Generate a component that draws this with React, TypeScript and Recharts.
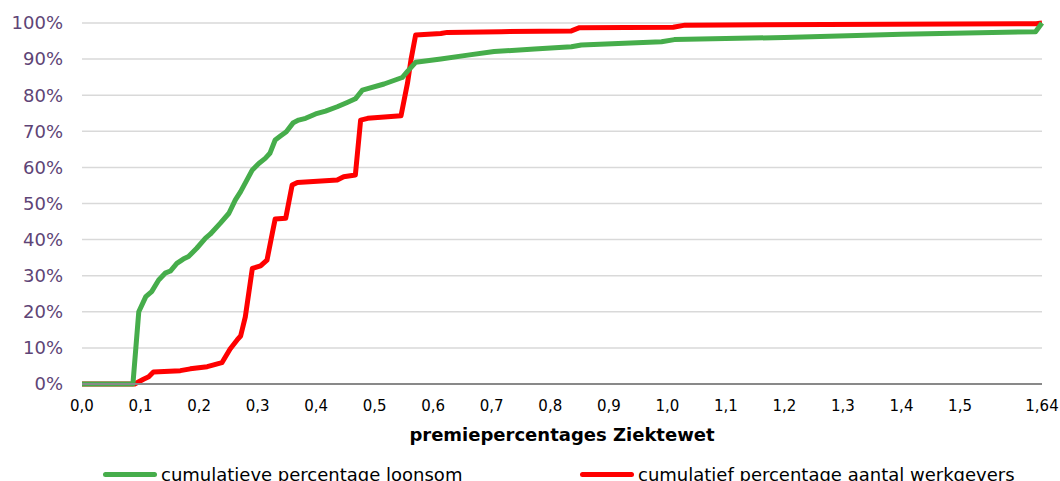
import React from "react";
import { LineChart, Line, XAxis, YAxis, CartesianGrid, Legend } from "recharts";

// premiepercentage (x) en cumulatieve percentages (y)
const loonsomX = [0, 0.087, 0.097, 0.109, 0.119, 0.131, 0.142, 0.151, 0.162, 0.173, 0.182, 0.196, 0.211, 0.219, 0.236, 0.251, 0.262, 0.271, 0.291, 0.302, 0.313, 0.321, 0.33, 0.339, 0.349, 0.361, 0.37, 0.382, 0.399, 0.416, 0.436, 0.453, 0.467, 0.479, 0.516, 0.547, 0.556, 0.57, 0.613, 0.659, 0.704, 0.773, 0.836, 0.853, 0.99, 1.012, 1.2, 1.4, 1.629, 1.64];
const loonsomY = [0, 0, 20, 24.2, 25.6, 28.8, 30.7, 31.3, 33.4, 34.6, 35.3, 37.6, 40.4, 41.5, 44.5, 47.3, 51, 53.3, 59.3, 61.1, 62.5, 63.9, 67.6, 68.7, 69.9, 72.4, 73.1, 73.6, 74.8, 75.6, 76.8, 78, 79, 81.4, 83.1, 84.9, 86.6, 89.1, 90, 91.1, 92.1, 92.8, 93.4, 93.9, 94.8, 95.4, 96, 96.9, 97.6, 100];

const werkgeversX = [0, 0.09, 0.105, 0.114, 0.122, 0.168, 0.185, 0.214, 0.225, 0.239, 0.253, 0.265, 0.271, 0.279, 0.291, 0.305, 0.316, 0.325, 0.33, 0.348, 0.359, 0.368, 0.436, 0.447, 0.467, 0.476, 0.488, 0.545, 0.556, 0.562, 0.57, 0.613, 0.624, 0.716, 0.836, 0.85, 1.01, 1.03, 1.63, 1.64];
const werkgeversY = [0, 0, 1.3, 2, 3.3, 3.7, 4.2, 4.8, 5.3, 5.9, 9.7, 12.2, 13.3, 18.6, 32, 32.7, 34.3, 41.7, 45.7, 45.9, 55.1, 55.8, 56.5, 57.4, 57.9, 73.1, 73.6, 74.3, 83.3, 89.8, 96.7, 97.1, 97.4, 97.6, 97.8, 98.7, 98.8, 99.4, 99.8, 100];

const xTicks = [0, 0.1, 0.2, 0.3, 0.4, 0.5, 0.6, 0.7, 0.8, 0.9, 1.0, 1.1, 1.2, 1.3, 1.4, 1.5, 1.64];
const yTicks = [0, 10, 20, 30, 40, 50, 60, 70, 80, 90, 100];

const loonsom = loonsomX.map((x, i) => ({ x, y: loonsomY[i] }));
const werkgevers = werkgeversX.map((x, i) => ({ x, y: werkgeversY[i] }));

const GREEN = "#46AD4B";
const RED = "#FF0000";
const FONT = "'DejaVu Sans', Verdana, sans-serif";

const fmtX = (v: number) => (v === 1.64 ? "1,64" : v.toFixed(1).replace(".", ","));

function LegendContent() {
  const item = (color: string, text: string, left: number) => (
    <div style={{ position: "absolute", left, top: 0, display: "flex", alignItems: "center" }}>
      <div style={{ width: 54, height: 5, background: color, borderRadius: 3, marginRight: 4 }} />
      <span style={{ fontSize: 18, color: "#000", fontFamily: FONT, whiteSpace: "nowrap" }}>{text}</span>
    </div>
  );
  return (
    <div style={{ position: "relative", width: 1060, height: 24 }}>
      {item(GREEN, "cumulatieve percentage loonsom", 103)}
      {item(RED, "cumulatief percentage aantal werkgevers", 580)}
    </div>
  );
}

export default function App() {
  return (
    <div style={{ position: "absolute", left: 0, top: 0, width: 1060, height: 481, overflow: "hidden", background: "#fff" }}>
      <LineChart width={1060} height={481} margin={{ top: 23, right: 18, bottom: 37, left: 0 }}>
        <CartesianGrid vertical={false} stroke="#d9d9d9" strokeWidth={1.5} />
        <XAxis
          type="number"
          dataKey="x"
          domain={[0, 1.64]}
          ticks={xTicks}
          tickFormatter={fmtX}
          interval={0}
          height={60}
          tickLine={false}
          tickMargin={10}
          axisLine={{ stroke: "#898989", strokeWidth: 2 }}
          tick={{ fill: "#000", fontSize: 15, fontFamily: FONT }}
          label={{ value: "premiepercentages Ziektewet", position: "insideBottom", offset: 3, fill: "#000", fontSize: 18, fontWeight: "bold", fontFamily: FONT }}
        />
        <YAxis
          type="number"
          domain={[0, 100]}
          ticks={yTicks}
          interval={0}
          width={82}
          tickLine={false}
          axisLine={false}
          tickMargin={13}
          tickFormatter={(v: number) => `${v}%`}
          tick={{ fill: "#5E4476", fontSize: 18, fontFamily: FONT }}
        />
        <Line data={werkgevers} dataKey="y" type="linear" stroke={RED} strokeWidth={5} dot={false} isAnimationActive={false} strokeLinejoin="round" />
        <Line data={loonsom} dataKey="y" type="linear" stroke={GREEN} strokeWidth={5} dot={false} isAnimationActive={false} strokeLinejoin="round" />
        <Legend verticalAlign="middle" align="center" content={<LegendContent />} wrapperStyle={{ top: 464, left: 0, width: 1060 }} />
      </LineChart>
    </div>
  );
}
